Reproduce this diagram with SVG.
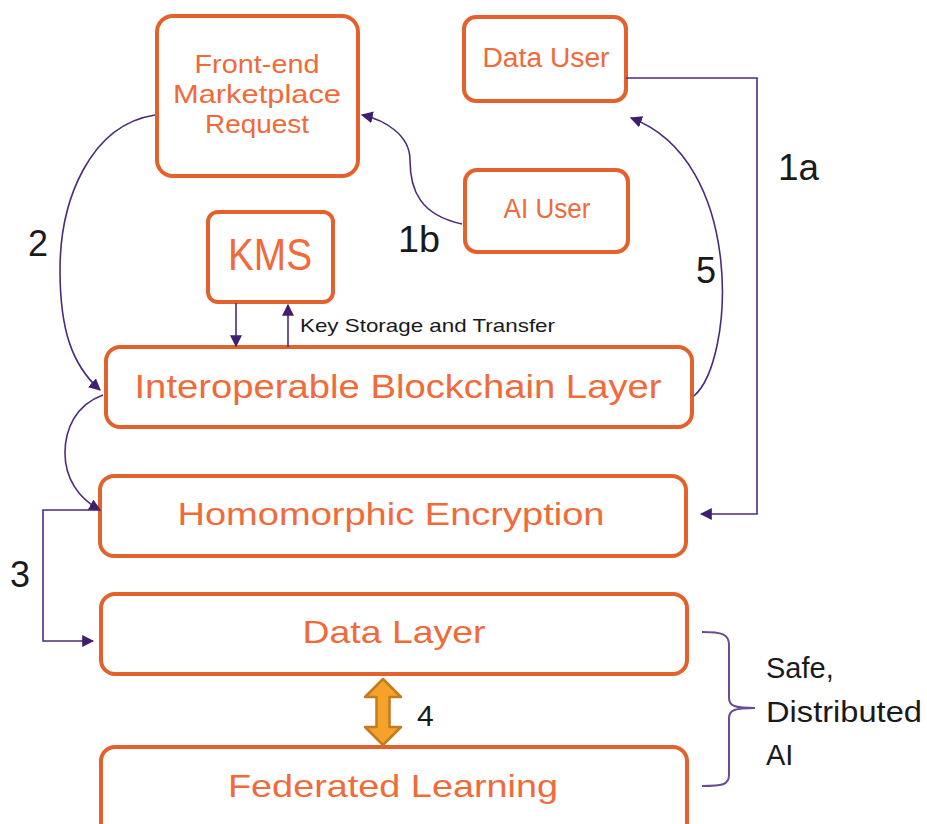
<svg xmlns="http://www.w3.org/2000/svg" width="927" height="824" viewBox="0 0 927 824">
<style>
.box{fill:#fff;stroke:#E2612C;stroke-width:4}
.bt{fill:#F06A3A;font-family:"Liberation Sans",Arial,sans-serif;text-anchor:middle}
.lb{fill:#1a1a1a;font-family:"Liberation Sans",Arial,sans-serif}
.con{fill:none;stroke:#4B2C7A;stroke-width:1.6}
.br{fill:none;stroke:#6A4C93;stroke-width:2}
</style>
<defs>
<marker id="ah" viewBox="0 0 10 10" refX="9" refY="5" markerWidth="12" markerHeight="12" markerUnits="userSpaceOnUse" orient="auto">
<path d="M0,0 L10,5 L0,10 z" fill="#3E1F6E"/>
</marker>
</defs>
<rect width="927" height="824" fill="#fff"/>
<g id="frontend"><rect class="box" x="157" y="16" width="201" height="160" rx="16"/>
<text class="bt" font-size="26" x="257" y="73" textLength="125" lengthAdjust="spacingAndGlyphs">Front-end</text>
<text class="bt" font-size="26" x="257" y="103" textLength="168" lengthAdjust="spacingAndGlyphs">Marketplace</text>
<text class="bt" font-size="26" x="257" y="133" textLength="104" lengthAdjust="spacingAndGlyphs">Request</text></g>
<g id="datauser"><rect class="box" x="464" y="17" width="162" height="84" rx="12"/>
<text class="bt" font-size="27" x="546" y="67" textLength="127" lengthAdjust="spacingAndGlyphs">Data User</text></g>
<g id="aiuser"><rect class="box" x="465" y="170" width="163" height="82" rx="12"/>
<text class="bt" font-size="27" x="547" y="218" textLength="87" lengthAdjust="spacingAndGlyphs">AI User</text></g>
<g id="kms"><rect class="box" x="208" y="212" width="125" height="90" rx="10"/>
<text class="bt" font-size="44" x="270" y="270" textLength="84" lengthAdjust="spacingAndGlyphs">KMS</text></g>
<g id="blockchain"><rect class="box" x="106" y="347" width="586" height="80" rx="14"/>
<text class="bt" font-size="34" x="398" y="398" textLength="527" lengthAdjust="spacingAndGlyphs">Interoperable Blockchain Layer</text></g>
<g id="homomorphic"><rect class="box" x="100" y="476" width="586" height="80" rx="14"/>
<text class="bt" font-size="32" x="391" y="525" textLength="427" lengthAdjust="spacingAndGlyphs">Homomorphic Encryption</text></g>
<g id="datalayer"><rect class="box" x="101" y="594" width="586" height="80" rx="14"/>
<text class="bt" font-size="32" x="394" y="643" textLength="183" lengthAdjust="spacingAndGlyphs">Data Layer</text></g>
<g id="federated"><rect class="box" x="101" y="747" width="586" height="90" rx="14"/>
<text class="bt" font-size="32" x="393" y="797" textLength="330" lengthAdjust="spacingAndGlyphs">Federated Learning</text></g>
<g id="connectors">
<path class="con" d="M626,78 H757 V514 H701" marker-end="url(#ah)"/>
<path class="con" d="M694,396 C735,360 745,160 631,118" marker-end="url(#ah)"/>
<path class="con" d="M462,224 C420,215 410,190 410,160 C410,135 385,120 362,115" marker-end="url(#ah)"/>
<path class="con" d="M155,115 C90,125 60,200 60,270 C60,330 72,365 100,390" marker-end="url(#ah)"/>
<path class="con" d="M103,395 C75,405 65,430 65,453 C65,478 78,498 100,510" marker-end="url(#ah)"/>
<path class="con" d="M100,510 H43 V641 H93" marker-end="url(#ah)"/>
<path class="con" d="M236,303 V346" marker-end="url(#ah)"/>
<path class="con" d="M288,347 V305" marker-end="url(#ah)"/>
<path d="M383,679 L401,697 L389.5,697 L389.5,727 L401,727 L383,745 L365,727 L376.5,727 L376.5,697 L365,697 Z" fill="#F5A22A" stroke="#C47A1E" stroke-width="2.5" stroke-linejoin="round"/>
<path class="br" d="M702,632 C722,632 729,634 729,645 L729,698 C729,706 735,708 755,708 C735,708 729,710 729,718 L729,775 C729,785 722,786 702,786"/>
</g>
<g id="labels">
<text class="lb" font-size="36" x="778" y="180" textLength="41" lengthAdjust="spacingAndGlyphs">1a</text>
<text class="lb" font-size="36" x="696" y="283">5</text>
<text class="lb" font-size="36" x="398" y="252" textLength="42" lengthAdjust="spacingAndGlyphs">1b</text>
<text class="lb" font-size="36" x="28" y="256">2</text>
<text class="lb" font-size="36" x="10" y="587">3</text>
<text class="lb" font-size="30" x="417" y="726">4</text>
<text class="lb" font-size="19" x="300" y="332" textLength="255" lengthAdjust="spacingAndGlyphs">Key Storage and Transfer</text>
<text class="lb" font-size="29" x="766" y="678">Safe,</text>
<text class="lb" font-size="29" x="766" y="722" textLength="156" lengthAdjust="spacingAndGlyphs">Distributed</text>
<text class="lb" font-size="29" x="766" y="765">AI</text>
</g>
</svg>
